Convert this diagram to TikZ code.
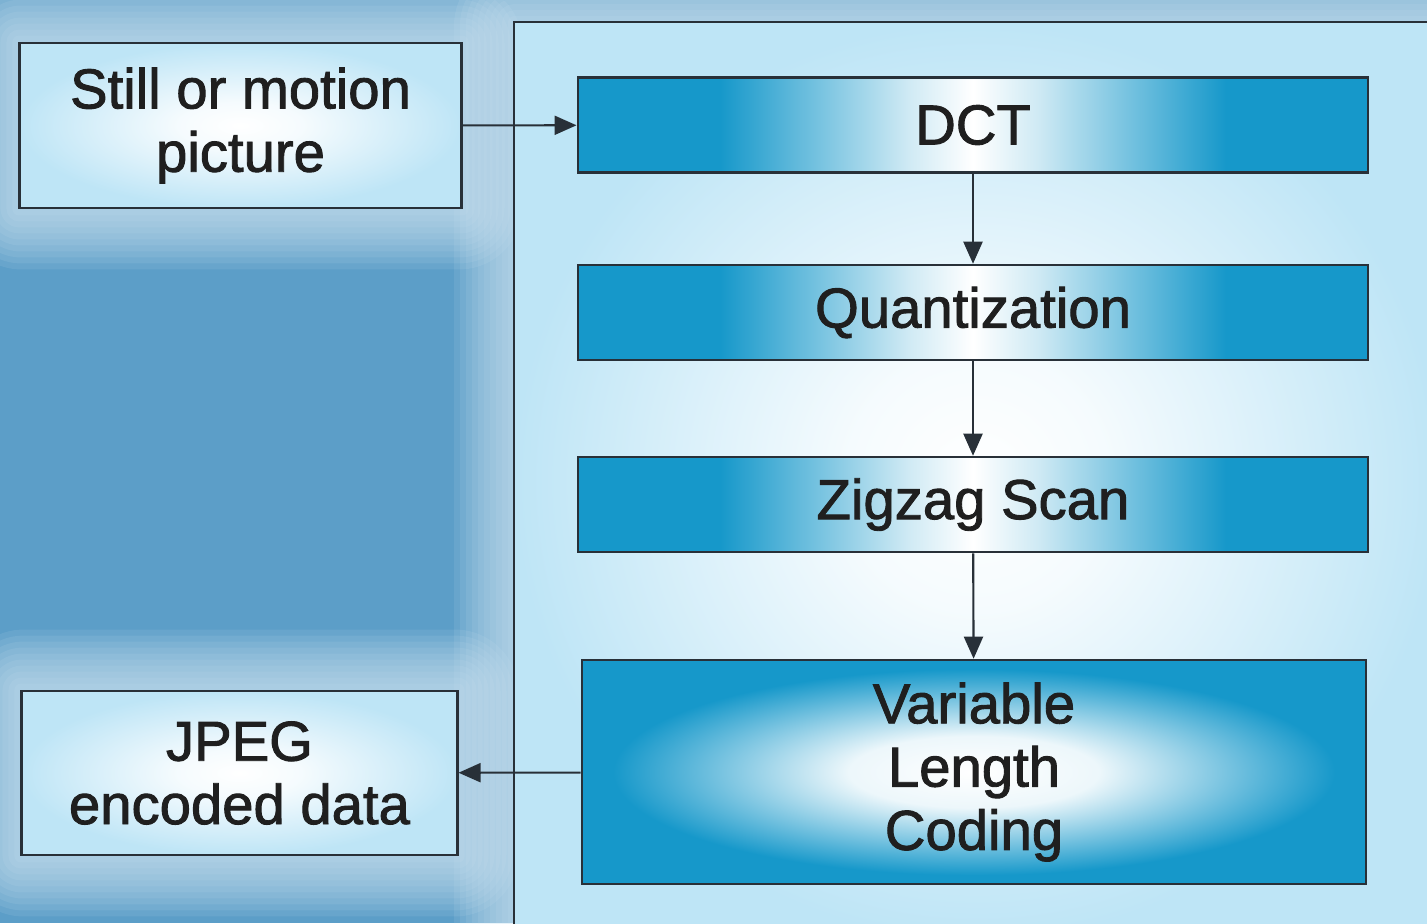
\documentclass[tikz,border=0pt]{standalone}
\usepackage{fontspec}
\setmainfont{Liberation Sans}[FakeBold=1.6]
\usetikzlibrary{arrows.meta,backgrounds,calc,positioning}
\definecolor{bgblue}{RGB}{92,158,200}
\definecolor{glowblue}{RGB}{214,234,246}
\definecolor{panelblue}{RGB}{190,229,246}
\definecolor{boxblue}{RGB}{22,152,202}
\definecolor{edgegray}{RGB}{40,48,56}
\pgfdeclarehorizontalshading{barshade}{100bp}{color(0bp)=(boxblue); color(34bp)=(boxblue); color(46bp)=(white!80!boxblue); color(50bp)=(white); color(54bp)=(white!80!boxblue); color(66bp)=(boxblue); color(100bp)=(boxblue)}
\pgfdeclareradialshading{vlcshade}{\pgfpointorigin}{color(0bp)=(white); color(8bp)=(white!92!boxblue); color(23bp)=(boxblue); color(50bp)=(boxblue)}
\pgfdeclareradialshading{paleshade}{\pgfpointorigin}{color(0bp)=(white); color(7bp)=(white!85!panelblue); color(25bp)=(panelblue); color(50bp)=(panelblue)}
\begin{document}
\begin{tikzpicture}[x=0.01cm,y=-0.01cm]
  \tikzset{inbox/.style = {draw=edgegray, line width=0.8pt, shading=paleshade, align=center, text=black!88, font=\fontsize{16}{18}\selectfont, inner sep=0pt}}
  \tikzset{stagebox/.style = {draw=edgegray, line width=0.7pt, shading=barshade, minimum width=7.9cm, minimum height=0.95cm, align=center, text=black!88, font=\fontsize{16}{18}\selectfont, inner sep=0pt}}
  \tikzset{edge/.style = {-{Triangle[length=2.2mm,width=1.9mm]}, line width=0.6pt, draw=edgegray}}

  \clip (0,0) rectangle (1427,923);

  % outer boxes
  \node[inbox, minimum width=4.41cm, minimum height=1.65cm] (still) at (240.5,125.5) {Still or motion\\picture};
  \node[inbox, minimum width=4.35cm, minimum height=1.64cm] (jpeg) at (239.5,773) {JPEG\\encoded data};

  % stages
  \node[stagebox] (dct) at (973,125) {DCT};
  \node[stagebox] (quant) at (973,312.5) {Quantization};
  \node[stagebox] (zigzag) at (973,504.5) {Zigzag Scan};
  \node[stagebox, shading=vlcshade, minimum width=7.84cm, minimum height=2.24cm] (vlc) at (974,772) {Variable\\Length\\Coding};

  \foreach \from/\to in {still/dct, dct/quant, quant/zigzag, zigzag/vlc, vlc/jpeg}
    \draw[edge] (\from) -- (\to);

  \begin{scope}[on background layer]
    \fill[bgblue] (0,0) rectangle (1427,923);
    % soft glow
    \foreach \g in {60,54,...,6} {
      \pgfmathsetmacro\r{\g*0.3}
      \fill[glowblue, opacity=0.1, rounded corners=\r pt] ($(still.north west)+(-\g,-\g)$) rectangle ($(still.south east)+(\g,\g)$);
      \fill[glowblue, opacity=0.1, rounded corners=\r pt] ($(jpeg.north west)+(-\g,-\g)$) rectangle ($(jpeg.south east)+(\g,\g)$);
      \fill[glowblue, opacity=0.1, rounded corners=\r pt] (514-\g,22-\g) rectangle (1500,1000);
    }
    % panel
    \path[draw=edgegray, line width=0.8pt, shading=paleshade] (514,22) rectangle (1440,940);
  \end{scope}
\end{tikzpicture}
\end{document}
